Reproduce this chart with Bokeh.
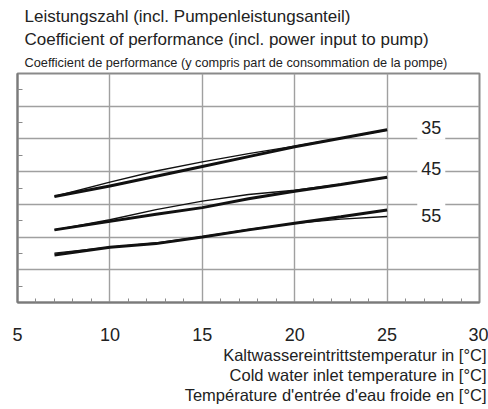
from bokeh.plotting import figure
from bokeh.models import Label, FixedTicker, Range1d, Title
from bokeh.embed import file_html
from bokeh.resources import INLINE

# ---- data (y in grid units, no y labels shown) ----
temps = [7, 10, 12.5, 15, 17.5, 20, 22.5, 25]

cop35_a = [3.24, 3.56, 3.86, 4.16, 4.46, 4.76, 5.02, 5.28]
cop35_b = [3.24, 3.68, 4.02, 4.30, 4.55, 4.78, 5.02, 5.27]
cop45_a = [2.22, 2.48, 2.70, 2.90, 3.17, 3.40, 3.61, 3.83]
cop45_b = [2.22, 2.53, 2.84, 3.10, 3.30, 3.43, 3.62, 3.82]
cop55_a = [1.45, 1.69, 1.80, 2.00, 2.22, 2.42, 2.62, 2.83]
cop55_b = [1.51, 1.69, 1.82, 2.01, 2.23, 2.42, 2.55, 2.63]

series_labels = ["35", "45", "55"]
label_pos_y = [5.36, 4.10, 2.66]

x_ticks = [5, 10, 15, 20, 25, 30]
x_minor = [6, 7, 8, 9, 11, 12, 13, 14, 16, 17, 18, 19, 21, 22, 23, 24, 26, 27, 28, 29]
y_ticks = [0, 1, 2, 3, 4, 5, 6, 7]
y_minor = [0.5, 1.5, 2.5, 3.5, 4.5, 5.5, 6.5]

title_lines = [
    "Leistungszahl (incl. Pumpenleistungsanteil)",
    "Coefficient of performance (incl. power input to pump)",
    "Coefficient de performance (y compris part de consommation de la pompe)",
]
xlabel_lines = [
    "Kaltwassereintrittstemperatur in [°C]",
    "Cold water inlet temperature in [°C]",
    "Température d'entrée d'eau froide en [°C]",
]

FONT = "Liberation Sans"
TXT = "#222222"

p = figure(width=488, height=409, output_backend="svg", toolbar_location=None,
           x_range=Range1d(5, 30), y_range=Range1d(0, 7),
           min_border_left=17, min_border_right=9, min_border_top=73,
           min_border_bottom=107)
p.background_fill_color = "white"
p.border_fill_color = "white"
p.outline_line_color = "#8a8a8a"
p.outline_line_width = 2

# x axis
xa = p.xaxis[0]
xa.ticker = FixedTicker(ticks=x_ticks, minor_ticks=x_minor)
xa.major_tick_in = 0
xa.major_tick_out = 0
xa.minor_tick_in = 4
xa.minor_tick_out = 0
xa.minor_tick_line_color = "#8a8a8a"
xa.minor_tick_line_width = 1
xa.axis_line_color = "#7a7a7a"
xa.axis_line_width = 2
xa.major_label_standoff = 25
xa.major_label_text_font = FONT
xa.major_label_text_font_size = "18px"
xa.major_label_text_color = TXT

# y axis: minor ticks only, no labels
ya = p.yaxis[0]
ya.ticker = FixedTicker(ticks=[], minor_ticks=y_minor)
ya.major_tick_in = 0
ya.major_tick_out = 0
ya.minor_tick_in = 5
ya.minor_tick_out = 0
ya.minor_tick_line_color = "#8a8a8a"
ya.axis_line_color = "#7a7a7a"
ya.axis_line_width = 2
ya.major_label_standoff = 0

p.xgrid.ticker = FixedTicker(ticks=x_ticks)
p.ygrid.ticker = FixedTicker(ticks=y_ticks)
for g in (p.xgrid[0], p.ygrid[0]):
    g.grid_line_color = "#a0a0a0"
    g.grid_line_width = 1.4

# curves
for a, b in [(cop35_a, cop35_b), (cop45_a, cop45_b), (cop55_a, cop55_b)]:
    p.line(temps, b, line_color="#111111", line_width=1.4)
    p.line(temps, a, line_color="#111111", line_width=3)

# curve labels with white background
for t, yv in zip(series_labels, label_pos_y):
    p.add_layout(Label(x=27.39, y=yv, text=t, text_align="center",
                       text_baseline="middle", text_font=FONT,
                       text_font_size="18px", text_color=TXT,
                       background_fill_color="white",
                       padding=dict(left=4, right=4, top=6, bottom=6)))

# titles above (first added is nearest the frame)
title_fonts = [("17px", 3), ("17px", 1), ("12.75px", 7)]
for t, (s, so) in reversed(list(zip(title_lines, title_fonts))):
    p.add_layout(Title(text=t, align="left", offset=7, standoff=so,
                       text_font=FONT, text_font_size=s, text_color=TXT,
                       text_font_style="normal"), "above")

# x axis title lines below (right aligned)
for t in xlabel_lines:
    p.add_layout(Title(text=t, align="right", offset=-7, standoff=0,
                       text_font=FONT, text_font_size="16.5px", text_color=TXT,
                       text_font_style="normal"), "below")

open("out.html", "w").write(file_html(p, INLINE))
